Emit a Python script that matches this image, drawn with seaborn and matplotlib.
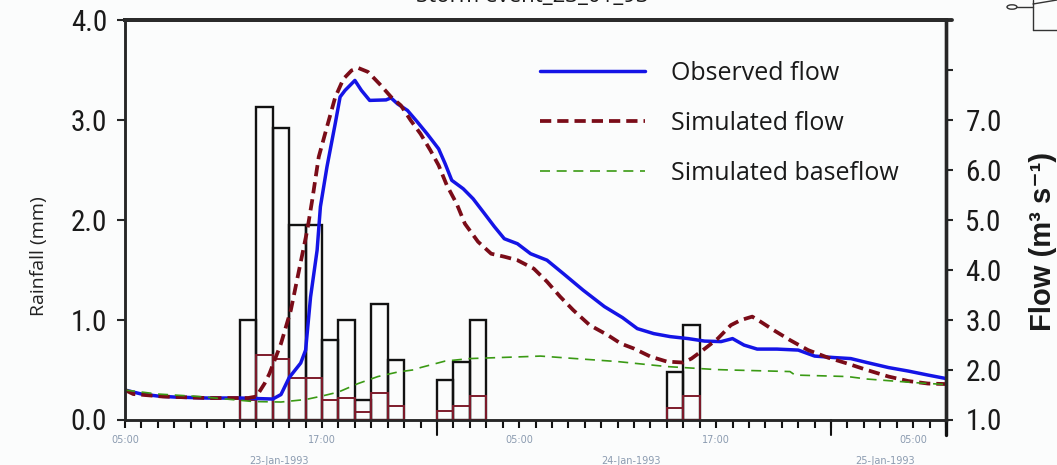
import numpy as np
import pandas as pd
import seaborn as sns
import matplotlib
matplotlib.use("Agg")
import matplotlib.pyplot as plt
from matplotlib.transforms import blended_transform_factory
from matplotlib.lines import Line2D
from matplotlib.patches import Circle

# ---- data (hours after 05:00 on 23-Jan-1993) ----
rain_hour = [7, 8, 9, 10, 11, 12, 13, 14, 15, 16, 19, 20, 21, 33, 34]
rain_total = [1.0, 3.13, 2.92, 1.95, 1.95, 0.80, 1.0, 0.2, 1.16, 0.6,
              0.4, 0.58, 1.0, 0.48, 0.95]
rain_effective = [0.2, 0.65, 0.61, 0.42, 0.42, 0.2, 0.22, 0.08, 0.27, 0.14,
                  0.09, 0.14, 0.24, 0.12, 0.24]

obs_hour = [0, 1, 2, 3, 4, 5, 6, 7, 8, 9, 9.5, 10, 10.7, 11, 11.3, 11.7, 11.9,
            12.3, 12.8, 13.1, 13.4, 14.0, 14.4, 14.9, 15.9, 16.2, 16.6, 17.2,
            17.8, 18.4, 19.1, 19.5, 19.9, 20.6, 21.2, 21.9, 22.5, 23.1, 23.9,
            24.7, 25.7, 26.7, 27.9, 29.2, 30.3, 31.2, 32.2, 33.2, 34.3, 35.3,
            36.3, 37.0, 37.7, 38.5, 39.7, 41.0, 42.0, 43.2, 44.2, 45.2, 46.5,
            47.7, 48.9, 50]
obs_flow = [1.59, 1.51, 1.47, 1.45, 1.44, 1.43, 1.43, 1.43, 1.42, 1.41, 1.50,
            1.84, 2.13, 2.39, 3.45, 4.39, 5.26, 6.06, 6.92, 7.46, 7.59, 7.79,
            7.59, 7.39, 7.40, 7.44, 7.32, 7.19, 6.96, 6.72, 6.42, 6.12, 5.79,
            5.62, 5.42, 5.12, 4.86, 4.62, 4.52, 4.32, 4.19, 3.92, 3.59, 3.26,
            3.04, 2.82, 2.72, 2.66, 2.62, 2.57, 2.56, 2.62, 2.49, 2.41, 2.41,
            2.39, 2.27, 2.24, 2.22, 2.14, 2.04, 1.97, 1.89, 1.82]

sim_hour = [0, 0.5, 2.3, 5, 7.5, 8.0, 8.5, 8.8, 9.5, 10.1, 10.6, 11.1, 11.4,
            11.8, 12.3, 12.8, 13.3, 13.8, 14.2, 14.8, 15.5, 16.2, 16.8, 17.4,
            18.0, 18.6, 19.1, 19.6, 20.2, 20.7, 21.5, 22.3, 23.1, 23.9, 24.9,
            25.7, 26.5, 27.3, 28.3, 29.4, 30.2, 31.0, 32.0, 33.0, 34.0, 34.5,
            35.2, 36.1, 36.9, 37.5, 38.2, 38.7, 39.5, 40.5, 41.6, 42.8, 44.0,
            45.2, 46.5, 47.7, 48.9, 50]
sim_flow = [1.59, 1.51, 1.46, 1.43, 1.43, 1.46, 1.72, 1.92, 2.52, 3.19, 3.99,
            4.79, 5.39, 6.26, 6.86, 7.45, 7.82, 7.99, 8.04, 7.96, 7.72, 7.46,
            7.29, 6.99, 6.72, 6.39, 6.09, 5.69, 5.32, 4.92, 4.56, 4.32, 4.26,
            4.19, 4.02, 3.76, 3.46, 3.19, 2.89, 2.69, 2.52, 2.42, 2.26, 2.16,
            2.14, 2.22, 2.39, 2.62, 2.89, 2.99, 3.06, 2.96, 2.79, 2.59, 2.39,
            2.24, 2.12, 1.99, 1.86, 1.77, 1.72, 1.71]

base_hour = [0, 2, 4.5, 7.8, 9.5, 11, 12, 13, 14.2, 15.4, 16.6, 17.7, 18,
             19.5, 21, 24.5, 25.3, 27, 30, 33, 36, 37, 40.5, 40.8, 44, 45.2,
             48, 50]
base_flow = [1.59, 1.51, 1.46, 1.36, 1.35, 1.40, 1.47, 1.55, 1.72, 1.86, 1.95,
             2.00, 2.04, 2.17, 2.22, 2.26, 2.27, 2.23, 2.16, 2.06, 2.00, 1.99,
             1.96, 1.89, 1.86, 1.81, 1.74, 1.70]

time_ticks = [0, 12, 24, 36, 48]
time_labels = ["05:00", "17:00", "05:00", "17:00", "05:00"]
midnights = [19, 43]
date_pos = [9.4, 30.8, 46.3]
date_labels = ["23-Jan-1993", "24-Jan-1993", "25-Jan-1993"]
rain_ticks = [0, 1, 2, 3, 4]
flow_ticks = [1, 2, 3, 4, 5, 6, 7, 8]
flow_tick_labels = ["1.0", "2.0", "3.0", "4.0", "5.0", "6.0", "7.0", ""]
series_labels = ["Observed flow", "Simulated flow", "Simulated baseflow"]

# ---- styling ----
sns.set_style("ticks")
plt.rcParams["font.family"] = ["Open Sans", "DejaVu Sans"]
NARROW = ["Liberation Sans Narrow", "Roboto Condensed", "DejaVu Sans Condensed",
          "Roboto", "DejaVu Sans"]
BG = "#fbfcfc"
INK = "#1a1a1a"

W, H = 1057, 465
fig = plt.figure(figsize=(W / 100, H / 100), dpi=100, facecolor=BG)
L, R, T, B = 125, 946, 20, 419.5
ax = fig.add_axes([L / W, 1 - B / H, (R - L) / W, (B - T) / H])
ax.set_facecolor(BG)
ax2 = ax.twinx()

# rainfall bars (total rainfall and effective rainfall), hollow outlines
ax.bar(rain_hour, rain_total, width=1.0, align="edge", fill=False,
       edgecolor="#111111", linewidth=1.7, zorder=2)
ax.bar(rain_hour, rain_effective, width=1.0, align="edge", fill=False,
       edgecolor="#7e1b2b", linewidth=1.4, zorder=3)

# flow series
sns.lineplot(x=obs_hour, y=obs_flow, ax=ax2, color="#1414e6", linewidth=2.5,
             label=series_labels[0], legend=False)
sns.lineplot(x=sim_hour, y=sim_flow, ax=ax2, color="#7a0c18", linewidth=2.7,
             linestyle=(0, (3.0, 1.6)), label=series_labels[1], legend=False)
sns.lineplot(x=base_hour, y=base_flow, ax=ax2, color="#3a9a14", linewidth=1.2,
             linestyle=(0, (6, 4)), label=series_labels[2], legend=False)

# axes limits and ticks
ax.set_xlim(0, 50)
ax.set_ylim(0, 4)
ax2.set_ylim(1, 9)

ax.set_yticks(rain_ticks)
ax.set_yticklabels([f"{v:.1f}" for v in rain_ticks], family=NARROW,
                   fontstretch="condensed", fontsize=21, color=INK)
ax.tick_params(axis="y", direction="out", length=6, width=1.5, pad=7)

ax2.set_yticks(flow_ticks)
ax2.set_yticklabels(flow_tick_labels, family=NARROW, fontstretch="condensed",
                    fontsize=21, color=INK)
ax2.tick_params(axis="y", direction="out", length=5, width=1.5, pad=9)

ax.set_xticks(time_ticks)
ax.set_xticklabels(time_labels, fontsize=7, color="#8b9bb0",
                   family=["DejaVu Sans"])
ax.set_xticks([h for h in range(0, 51) if h not in time_ticks], minor=True)
ax.tick_params(axis="x", which="both", direction="out", length=5.5,
               width=1.5, pad=6, color="#111111")

trans = blended_transform_factory(ax.transData, ax.transAxes)
for h in midnights:
    ax.plot([h, h], [0, -0.04], transform=trans, clip_on=False,
            color="#111111", lw=1.5)
for pos, txt in zip(date_pos, date_labels):
    ax.text(pos, -0.104, txt, transform=trans, ha="center", va="center",
            fontsize=7, color="#8b9bb0", family=["DejaVu Sans"])

# spines
for a in (ax, ax2):
    a.spines["left"].set_linewidth(1.8)
    a.spines["bottom"].set_linewidth(1.8)
    a.spines["right"].set_linewidth(2.4)
    a.spines["top"].set_linewidth(2.8)
    a.spines["top"].set_color("#2b2b2b")
ax.plot([1, 1], [0, -0.04], transform=ax.transAxes, clip_on=False,
        color="#111111", lw=2.4)
ax.plot([0, 1.007], [1, 1], transform=ax.transAxes, clip_on=False,
        color="#2b2b2b", lw=2.8)

# axis titles
ax.set_ylabel("Rainfall (mm)", fontsize=14, color="#222222")
ax.yaxis.set_label_coords(-0.094, 0.41)
ax2.set_ylabel("")
ax.set_xlabel("")
fig.text(1043 / W, 1 - 241 / H, "Flow (m³ s⁻¹)", rotation=90,
         ha="center", va="center", fontsize=21, fontweight="bold",
         family=["Liberation Sans", "DejaVu Sans"], color=INK)

# event title, running off the top edge
fig.text(532 / W, 1 - 2 / H, "Storm event_23_01_93", ha="center",
         va="baseline", fontsize=16, color=INK)

# legend
handles = ax2.get_lines()[:3]
leg = ax2.legend(handles, series_labels, loc="upper left",
                 bbox_to_anchor=(540 / W, 1 - 61 / H),
                 bbox_transform=fig.transFigure, frameon=False,
                 fontsize=18, handlelength=4.2, handletextpad=1.05,
                 labelspacing=1.0, borderpad=0, borderaxespad=0)
for t in leg.get_texts():
    t.set_color(INK)

# small schematic symbol in the upper right corner
fig.add_artist(Circle((1012 / W, 1 - 7 / H), 5 / W, transform=fig.transFigure,
                      fill=False, edgecolor="#333333", lw=1.0))
for xs, ys in [((1017, 1033), (7, 7)), ((1033, 1033), (0, 30)),
               ((1033, 1057), (30, 30)), ((1033, 1057), (4, 0))]:
    fig.add_artist(Line2D([x / W for x in xs], [1 - y / H for y in ys],
                          transform=fig.transFigure, color="#333333", lw=1.0))

fig.savefig("out.png", dpi=100, facecolor=BG)
